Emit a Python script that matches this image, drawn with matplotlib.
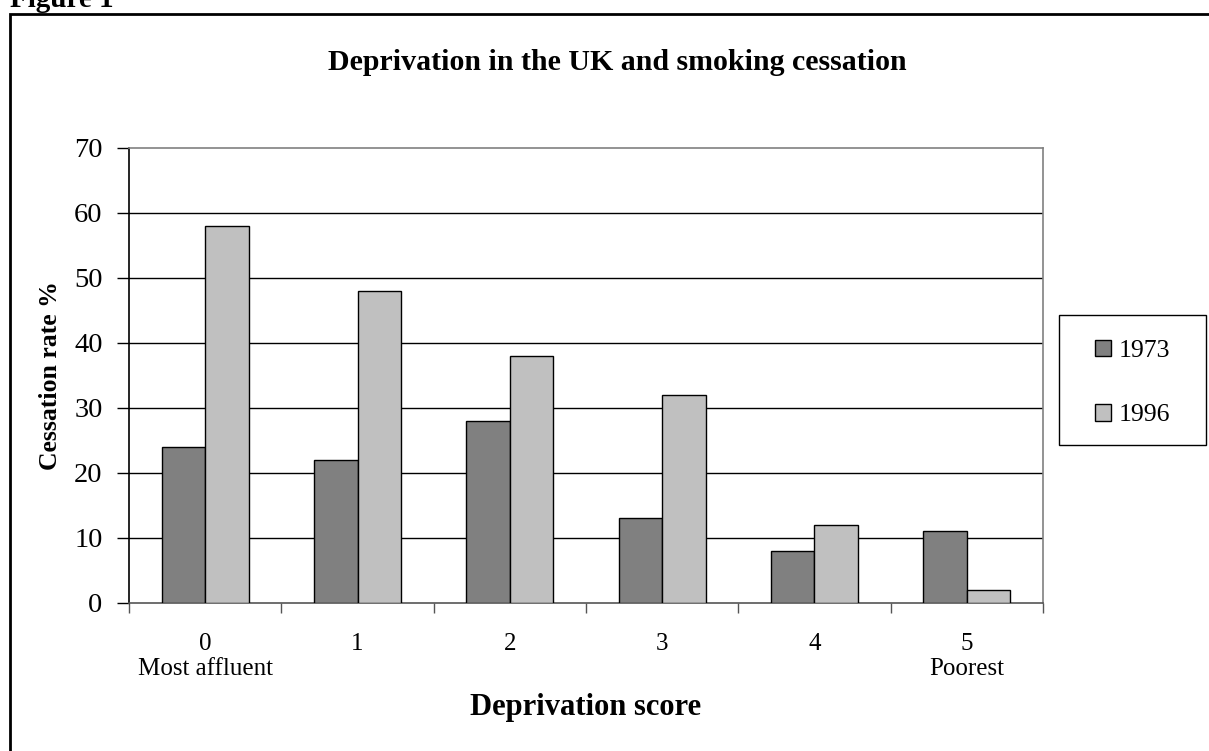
import matplotlib.pyplot as plt
from matplotlib.patches import Rectangle
import numpy as np

plt.rcParams['font.family'] = ['Liberation Serif', 'DejaVu Serif']

scores = ["0\nMost affluent", "1", "2", "3", "4", "5\nPoorest"]
rate_1973 = [24, 22, 28, 13, 8, 11]
rate_1996 = [58, 48, 38, 32, 12, 2]
years = ["1973", "1996"]

W, H = 1209, 751
fig = plt.figure(figsize=(W / 100, H / 100), dpi=100)

def fx(px):
    return px / W

def fy(py):
    return 1 - py / H

ax = fig.add_axes([fx(129), fy(603), fx(1043) - fx(129), fy(147.7) - fy(603)])

x = np.arange(len(scores))
w = 1 / 3.5
b1 = ax.bar(x - w / 2, rate_1973, w, color="#808080", edgecolor="black", linewidth=1, zorder=3, label=years[0])
b2 = ax.bar(x + w / 2, rate_1996, w, color="#C0C0C0", edgecolor="black", linewidth=1, zorder=3, label=years[1])

ax.set_xlim(-0.5, len(scores) - 0.5)
ax.set_ylim(0, 70)
ax.set_yticks(range(0, 71, 10))
for v in range(10, 70, 10):
    ax.axhline(v, color="black", linewidth=1, zorder=1)

ax.tick_params(axis="y", direction="out", length=9, width=1, color="black", labelsize=20.5, pad=10)
ax.set_xticks(np.arange(-0.5, len(scores), 1))
ax.set_xticklabels([])
ax.tick_params(axis="x", which="major", direction="out", length=7, width=1, color="#555555")
ax.set_xticks(x, minor=True)
ax.set_xticklabels(scores, minor=True, fontsize=18, linespacing=1.2)
ax.tick_params(axis="x", which="minor", length=0, pad=21.5)

ax.spines["left"].set_color("black")
ax.spines["bottom"].set_color("#555555")
ax.spines["top"].set_color("#808080")
ax.spines["right"].set_color("#808080")
for s in ax.spines.values():
    s.set_linewidth(1.2)

ax.set_ylabel("Cessation rate %", fontsize=18.5, fontweight="bold", labelpad=9)
fig.text(fx(586), fy(707), "Deprivation score", fontsize=22, fontweight="bold", ha="center", va="center")
fig.text(fx(617), fy(62.5), "Deprivation in the UK and smoking cessation", fontsize=21.5,
         fontweight="bold", ha="center", va="center")
fig.text(fx(10), fy(7), "Figure 1", fontsize=21, fontweight="bold", ha="left", va="baseline")

# outer chart frame
fig.patches.append(Rectangle((fx(10), fy(H + 20)), fx(W + 20) - fx(10), fy(14) - fy(H + 20),
                             transform=fig.transFigure, fill=False, edgecolor="black", linewidth=2))

# legend box
fig.patches.append(Rectangle((fx(1059), fy(445)), fx(1206) - fx(1059), fy(315) - fy(445),
                             transform=fig.transFigure, fill=False, edgecolor="black", linewidth=1))
fig.legend(handles=[b1, b2], loc="center", bbox_to_anchor=(fx(1132.5), fy(383)), frameon=False,
           fontsize=18.5, handlelength=0.6, handleheight=0.6, handletextpad=0.3, labelspacing=1.65)

fig.savefig("out.png", dpi=100)
